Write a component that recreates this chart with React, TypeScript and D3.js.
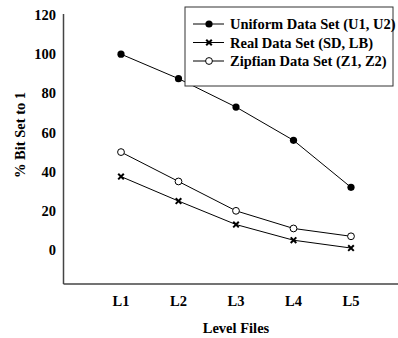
import React from "react";
import * as d3 from "d3";

const categories = ["L1", "L2", "L3", "L4", "L5"];
const uniform = [100, 87.5, 73, 56, 32];
const real = [37.5, 25, 13, 5, 1];
const zipfian = [50, 35, 20, 11, 7];
const yTicks = [0, 20, 40, 60, 80, 100, 120];
const seriesNames = ["Uniform Data Set (U1, U2)", "Real Data Set (SD, LB)", "Zipfian Data Set (Z1, Z2)"];

const W = 398, H = 338;
const font = "'Liberation Serif', 'Times New Roman', serif";

function Marker({ kind, x, y }: { kind: string; x: number; y: number }) {
  if (kind === "filled") return <circle cx={x} cy={y} r={3.6} fill="#000" />;
  if (kind === "open") return <circle cx={x} cy={y} r={3.4} fill="#fff" stroke="#000" strokeWidth={1} />;
  const s = 2.8;
  return (
    <g stroke="#000" strokeWidth={2}>
      <line x1={x - s} y1={y - s} x2={x + s} y2={y + s} />
      <line x1={x - s} y1={y + s} x2={x + s} y2={y - s} />
    </g>
  );
}

export default function App() {
  const x = d3.scaleLinear().domain([0, 6]).range([63.5, 408.5]);
  const y = d3.scaleLinear().domain([0, 120]).range([250, 15]);
  const yMin = y.invert(284);
  const line = d3.line<number>().x((_, i) => x(i + 1)).y((d) => y(d));
  const series = [
    { name: seriesNames[0], data: uniform, kind: "filled" },
    { name: seriesNames[1], data: real, kind: "x" },
    { name: seriesNames[2], data: zipfian, kind: "open" },
  ];
  const fs = 14.5;
  return (
    <svg width={W} height={H} style={{ position: "absolute", left: 0, top: 0, background: "#fff" }} fontFamily={font}>
      <rect x={0} y={0} width={W} height={H} fill="#fff" />
      <line x1={x(0)} x2={x(0)} y1={y(yMin)} y2={14} stroke="#444" strokeWidth={1.5} />
      <line x1={x(0)} x2={W} y1={y(yMin)} y2={y(yMin)} stroke="#444" strokeWidth={1.5} />
      {yTicks.map((t) => (
        <text key={t} x={56} y={y(t)} dy="0.35em" textAnchor="end" fontSize={fs} fontWeight="bold">
          {t}
        </text>
      ))}
      {categories.map((c, i) => (
        <text key={c} x={x(i + 1)} y={306} textAnchor="middle" fontSize={fs} fontWeight="bold">
          {c}
        </text>
      ))}
      <text x={236} y={333} textAnchor="middle" fontSize={fs} fontWeight="bold">Level Files</text>
      <text transform={`translate(25,135) rotate(-90)`} textAnchor="middle" fontSize={fs} fontWeight="bold">
        % Bit Set to 1
      </text>
      {series.map((s) => (
        <g key={s.name}>
          <path d={line(s.data) || ""} fill="none" stroke="#000" strokeWidth={1} />
          {s.data.map((v, i) => (
            <Marker key={i} kind={s.kind} x={x(i + 1)} y={y(v)} />
          ))}
        </g>
      ))}
      <rect x={185} y={7} width={208} height={79} fill="#fff" stroke="#333" strokeWidth={1} />
      {series.map((s, i) => {
        const ly = 24 + i * 18.5;
        return (
          <g key={s.name}>
            <line x1={193} x2={224} y1={ly} y2={ly} stroke="#000" strokeWidth={1} />
            <Marker kind={s.kind} x={209} y={ly} />
            <text x={230} y={ly} dy="0.35em" fontSize={fs} fontWeight="bold">
              {s.name}
            </text>
          </g>
        );
      })}
    </svg>
  );
}
